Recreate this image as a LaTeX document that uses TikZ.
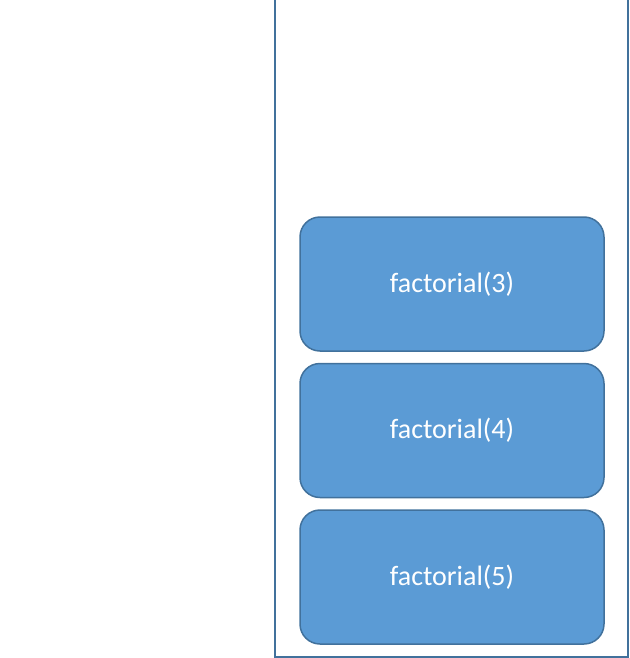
\documentclass[tikz,border=0pt]{standalone}
\usepackage{fontspec}
\setmainfont{Carlito}
\definecolor{boxfill}{HTML}{5B9BD5}
\definecolor{boxline}{HTML}{41719C}
\tikzset{
	frame/.style={rectangle,rounded corners=20pt,draw=boxline,line width=1.5pt,fill=boxfill,
		minimum width=304pt,minimum height=134pt,inner sep=0pt,text=white,
		font=\fontsize{28pt}{32pt}\selectfont}
}
\begin{document}
\begin{tikzpicture}[x=1pt,y=-1pt]
	\useasboundingbox (0,0) rectangle (629,658);
	% stack outline, open at the top
	\coordinate (tl) at (275,0);
	\coordinate (bl) at (275,657);
	\coordinate (br) at (628,657);
	\coordinate (tr) at (628,0);
	\draw[boxline,line width=1.5pt] (tl) -- (bl) -- (br) -- (tr);

	\node[frame] (f5) at (452,577) {factorial(5)};
	\node[frame] (f4) at (452,430.5) {factorial(4)};
	\node[frame] (f3) at (452,284) {factorial(3)};
\end{tikzpicture}
\end{document}
